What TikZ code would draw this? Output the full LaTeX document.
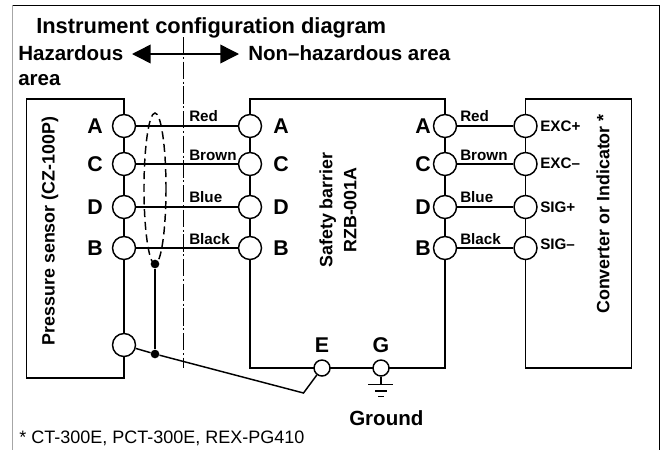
\documentclass[tikz,border=0pt]{standalone}
\usepackage{fontspec}
\setmainfont{Liberation Sans}
\usetikzlibrary{arrows.meta}
\tikzset{
	wire/.style={line width=1.1pt},
	terminal/.style={draw, circle, fill=white, line width=1.1pt, minimum size=17.25pt, inner sep=0pt},
	smallterminal/.style={draw, circle, fill=white, line width=1.1pt, minimum size=12pt, inner sep=0pt},
	junction/.style={circle, fill=black, minimum size=6.5pt, inner sep=0pt},
	pinlabel/.style={font=\bfseries\fontsize{16}{18}\selectfont, inner sep=0pt},
	colorlabel/.style={font=\bfseries\fontsize{11.4}{13}\selectfont, anchor=base west, inner sep=0pt},
	sidelabel/.style={font=\bfseries\fontsize{11.4}{13}\selectfont, anchor=west, inner sep=0pt},
	heading/.style={font=\bfseries\fontsize{15.4}{18}\selectfont, anchor=base west, inner sep=0pt},
	boxlabel/.style={font=\bfseries\fontsize{13.4}{18}\selectfont, rotate=90, align=center, inner sep=0pt}
}
\begin{document}
\begin{tikzpicture}[x=0.75pt,y=-0.75pt,>=Triangle]
	\useasboundingbox (0,0) rectangle (663,450);

	% frame
	\draw[line width=0.7pt,gray!70] (12.5,5.3) -- (12.5,450);
	\draw[line width=0.7pt] (12.5,5.3) -- (659.5,5.3) -- (659.5,450);

	% headings
	\node[heading, font=\bfseries\fontsize{16.4}{18}\selectfont] (title) at (36,33) {Instrument configuration diagram};
	\node[heading] (hazard) at (18,60) {Hazardous};
	\node[heading] (hazard2) at (18,85.5) {area};
	\node[heading] (safe) at (248,60) {Non–hazardous area};

	% zone boundary and arrow
	\coordinate (zonetop) at (183.5,37);
	\coordinate (zonebot) at (183.5,368);
	\coordinate (arrowl) at (132,54);
	\coordinate (arrowr) at (239,54);
	\draw[line width=0.9pt, dash pattern=on 13pt off 2pt on 1.5pt off 2pt] (zonetop) -- (zonebot);
	\draw[<->, wire, >={Triangle[length=14pt,width=14pt]}] (arrowl) -- (arrowr);

	% boxes
	\draw[wire] (124,99) -- (26.5,99) -- (26.5,378) -- (124,378) -- cycle;
	\draw[wire] (250,368) -- (250,99) -- (445,99) -- (445,368) -- cycle;
	\draw[wire] (525.5,368) -- (525.5,99) -- (631.5,99) -- (631.5,368) -- cycle;

	% terminals
	\foreach \name/\yy in {A/126,C/164,D/207,B/248} {
		\node[terminal] (s\name) at (124,\yy) {};
		\node[terminal] (b\name) at (250,\yy) {};
		\node[terminal] (o\name) at (445,\yy) {};
		\node[terminal] (c\name) at (525.5,\yy) {};
		\node[pinlabel] (sl\name) at (95,\yy) {\name};
		\node[pinlabel] (bl\name) at (281,\yy) {\name};
		\node[pinlabel] (ol\name) at (423,\yy) {\name};
	}
	\node[sidelabel] (clA) at (540,126) {EXC+};
	\node[sidelabel] (clC) at (540,163) {EXC–};
	\node[sidelabel] (clD) at (540,207.5) {SIG+};
	\node[sidelabel] (clB) at (540,244) {SIG–};

	% wires
	\foreach \name in {A,C,D,B} {
		\draw[wire] (s\name) -- (b\name);
		\draw[wire] (o\name) -- (c\name);
	}
	\node[colorlabel] (redl) at (189,121.7) {Red};
	\node[colorlabel] (brownl) at (189,160) {Brown};
	\node[colorlabel] (bluel) at (189,202.7) {Blue};
	\node[colorlabel] (blackl) at (189,244) {Black};
	\node[colorlabel] (redr) at (460,121.7) {Red};
	\node[colorlabel] (brownr) at (460,160) {Brown};
	\node[colorlabel] (bluer) at (460,202.7) {Blue};
	\node[colorlabel] (blackr) at (460,244) {Black};

	% shield
	\draw[wire, dash pattern=on 6pt off 3.5pt] (155,188.5) ellipse (11 and 75.5);
	\node[terminal] (sgnd) at (124,345) {};
	\node[junction] (shieldtop) at (155,264) {};
	\node[junction] (shieldbot) at (155,354) {};
	\coordinate (bend) at (303.5,393);
	\node[smallterminal] (termE) at (322,368) {};
	\node[smallterminal] (termG) at (381,368) {};
	\draw[wire] (shieldtop) -- (shieldbot);
	\draw[wire] (sgnd) -- (shieldbot) -- (bend) -- (termE);
	\node[pinlabel] (labE) at (322,345) {E};
	\node[pinlabel] (labG) at (381,345) {G};

	% ground symbol
	\coordinate (gndtop) at (381,384.5);
	\draw[wire] (termG) -- (gndtop);
	\draw[wire] (368,384.5) -- (393,384.5);
	\draw[wire] (375,391) -- (387,391);
	\draw[wire] (378,396.5) -- (384,396.5);
	\node[heading] (ground) at (349,425.7) {Ground};

	% box labels
	\node[boxlabel] (sensor) at (50,231) {Pressure sensor (CZ-100P)};
	\node[boxlabel] (barrier) at (338,210) {Safety barrier\\RZB-001A};
	\node[boxlabel] (conv) at (603,214) {Converter or Indicator *};

	% footnote
	\node[anchor=base west, inner sep=0pt, font=\fontsize{13.5}{16}\selectfont] (note) at (19,443) {* CT-300E, PCT-300E, REX-PG410};
\end{tikzpicture}
\end{document}
